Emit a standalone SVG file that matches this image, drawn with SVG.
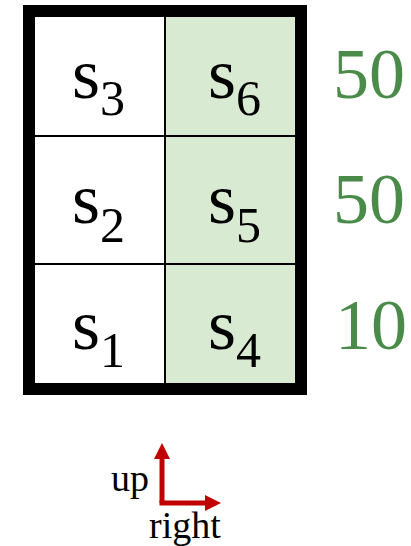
<svg xmlns="http://www.w3.org/2000/svg" width="411" height="546" viewBox="0 0 411 546">
<defs>
<style>
text{font-family:"Liberation Serif","Times New Roman",Times,serif}
.s{font-size:72px;fill:#000}
.sub{font-size:50px}
.n{font-size:72px;fill:#4a8b4a}
.lbl{font-size:38px;fill:#000}
.grid{stroke:#000;stroke-width:2;fill:none}
.arr{stroke:#c00000;stroke-width:5;fill:none}
</style>
<marker id="ah" viewBox="0 0 10 10" refX="0" refY="5" markerWidth="3.2" markerHeight="3.2" markerUnits="strokeWidth" orient="auto">
<path d="M0,0 L10,5 L0,10 z" fill="#c00000"/>
</marker>
</defs>
<rect x="0" y="0" width="411" height="546" fill="#fff"/>
<g id="cells">
<rect x="165" y="17" width="130" height="366" fill="#d9ead3"/>
</g>
<g id="s3"><text class="s" x="72" y="98" font-family="Liberation Serif, serif">s<tspan class="sub" dy="17">3</tspan></text></g>
<g id="s6"><text class="s" x="208" y="98" font-family="Liberation Serif, serif">s<tspan class="sub" dy="17">6</tspan></text></g>
<g id="s2"><text class="s" x="72" y="223" font-family="Liberation Serif, serif">s<tspan class="sub" dy="19">2</tspan></text></g>
<g id="s5"><text class="s" x="208" y="223" font-family="Liberation Serif, serif">s<tspan class="sub" dy="19">5</tspan></text></g>
<g id="s1"><text class="s" x="72" y="349" font-family="Liberation Serif, serif">s<tspan class="sub" dy="18">1</tspan></text></g>
<g id="s4"><text class="s" x="208" y="349" font-family="Liberation Serif, serif">s<tspan class="sub" dy="18">4</tspan></text></g>
<g id="grid">
<line class="grid" x1="165" y1="17" x2="165" y2="383"/>
<line class="grid" x1="35" y1="136" x2="295" y2="136"/>
<line class="grid" x1="35" y1="264" x2="295" y2="264"/>
<rect x="29" y="11" width="272" height="378" fill="none" stroke="#000" stroke-width="12"/>
</g>
<g id="values">
<text class="n" x="333" y="98" font-family="Liberation Serif, serif">50</text>
<text class="n" x="333" y="223" font-family="Liberation Serif, serif">50</text>
<text class="n" x="335" y="349" font-family="Liberation Serif, serif">10</text>
</g>
<g id="connectors">
<path class="arr" d="M162,503 L162,459" marker-end="url(#ah)"/>
<path class="arr" d="M159.5,503 L205,503" marker-end="url(#ah)"/>
</g>
<g id="labels">
<text class="lbl" x="111" y="491" font-family="Liberation Serif, serif">up</text>
<text class="lbl" x="149" y="538" font-family="Liberation Serif, serif">right</text>
</g>
</svg>
